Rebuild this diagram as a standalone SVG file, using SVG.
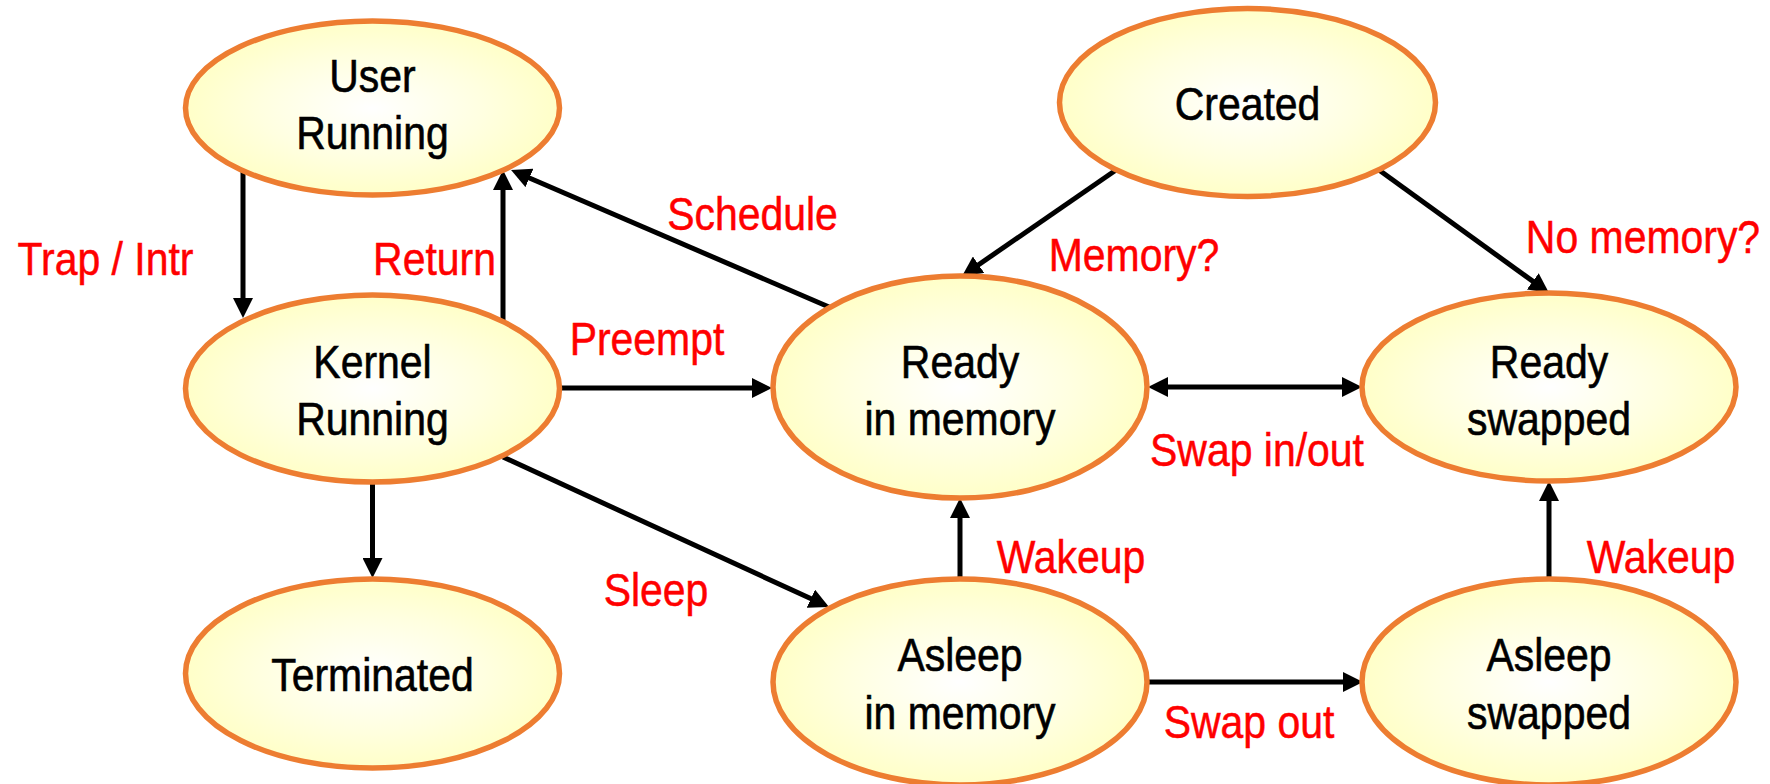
<svg xmlns="http://www.w3.org/2000/svg" width="1770" height="784" viewBox="0 0 1770 784">
  <style>
    .state { fill: url(#stateFill); stroke: #ED7D31; stroke-width: 5.5; }
    .name { font-family: "Liberation Sans", Arial, sans-serif; font-size: 46px; fill: #000; stroke: #000; stroke-width: 0.6; text-anchor: middle; }
    .label { font-family: "Liberation Sans", Arial, sans-serif; font-size: 46px; fill: #FF0000; stroke: #FF0000; stroke-width: 0.5; text-anchor: middle; }
    .edge { stroke: #000; stroke-width: 5; fill: none; marker-end: url(#head); }
    .both { marker-start: url(#head); }
  </style>
  <defs>
    <radialGradient id="stateFill" cx="50%" cy="50%" r="50%">
      <stop offset="0" stop-color="#FFFFFF"/>
      <stop offset="0.6" stop-color="#FFFFE0"/>
      <stop offset="1" stop-color="#FFFFC8"/>
    </radialGradient>
    <marker id="head" markerUnits="userSpaceOnUse" markerWidth="20" markerHeight="20" refX="7" refY="10" orient="auto-start-reverse">
      <path d="M0,0 L20,10 L0,20 Z" fill="#000"/>
    </marker>
  </defs>

  <!-- transitions -->
  <g id="connectors">
    <line class="edge" x1="243" y1="172" x2="243" y2="305"/>
    <line class="edge" x1="503" y1="321" x2="503" y2="183"/>
    <line class="edge" x1="829" y1="307" x2="523" y2="175.2"/>
    <line class="edge" x1="560" y1="388" x2="759" y2="388"/>
    <line class="edge" x1="503" y1="457" x2="817.2" y2="601.6"/>
    <line class="edge" x1="372.5" y1="482" x2="372.5" y2="565"/>
    <line class="edge" x1="1116" y1="170" x2="972.8" y2="268.7"/>
    <line class="edge" x1="1379" y1="170" x2="1538.5" y2="285.4"/>
    <line class="edge both" x1="1161" y1="387" x2="1349" y2="387"/>
    <line class="edge" x1="960" y1="579" x2="960" y2="511"/>
    <line class="edge" x1="1549" y1="579" x2="1549" y2="494"/>
    <line class="edge" x1="1147" y1="682" x2="1350" y2="682"/>
  </g>

  <!-- transition labels -->
  <g id="labels">
    <text class="label" transform="translate(105.5 0) scale(.89 1)" y="275">Trap / Intr</text>
    <text class="label" transform="translate(434.5 0) scale(.89 1)" y="275">Return</text>
    <text class="label" transform="translate(752.5 0) scale(.89 1)" y="230">Schedule</text>
    <text class="label" transform="translate(647 0) scale(.89 1)" y="355">Preempt</text>
    <text class="label" transform="translate(1134 0) scale(.89 1)" y="271.5">Memory?</text>
    <text class="label" transform="translate(1643 0) scale(.89 1)" y="253">No memory?</text>
    <text class="label" transform="translate(1257 0) scale(.89 1)" y="466.5">Swap in/out</text>
    <text class="label" transform="translate(1071 0) scale(.89 1)" y="573.5">Wakeup</text>
    <text class="label" transform="translate(1661 0) scale(.89 1)" y="573.5">Wakeup</text>
    <text class="label" transform="translate(656 0) scale(.89 1)" y="606.5">Sleep</text>
    <text class="label" transform="translate(1249 0) scale(.89 1)" y="738">Swap out</text>
  </g>

  <g id="user-running">
    <ellipse class="state" cx="372.5" cy="108" rx="187" ry="87"/>
    <text class="name" transform="translate(372.5 0) scale(.89 1)"><tspan x="0" y="92">User</tspan><tspan x="0" y="149">Running</tspan></text>
  </g>
  <g id="kernel-running">
    <ellipse class="state" cx="372.5" cy="388.5" rx="187" ry="93.5"/>
    <text class="name" transform="translate(372.5 0) scale(.89 1)"><tspan x="0" y="378">Kernel</tspan><tspan x="0" y="435">Running</tspan></text>
  </g>
  <g id="terminated">
    <ellipse class="state" cx="372.5" cy="673.5" rx="187" ry="94.5"/>
    <text class="name" transform="translate(372.5 0) scale(.89 1)" y="691.5">Terminated</text>
  </g>
  <g id="created">
    <ellipse class="state" cx="1247.5" cy="102.5" rx="188" ry="94"/>
    <text class="name" transform="translate(1247.5 0) scale(.89 1)" y="120">Created</text>
  </g>
  <g id="ready-in-memory">
    <ellipse class="state" cx="960" cy="387" rx="187" ry="111"/>
    <text class="name" transform="translate(960 0) scale(.89 1)"><tspan x="0" y="378">Ready</tspan><tspan x="0" y="435">in memory</tspan></text>
  </g>
  <g id="ready-swapped">
    <ellipse class="state" cx="1549" cy="387" rx="187" ry="94"/>
    <text class="name" transform="translate(1549 0) scale(.89 1)"><tspan x="0" y="378">Ready</tspan><tspan x="0" y="435">swapped</tspan></text>
  </g>
  <g id="asleep-in-memory">
    <ellipse class="state" cx="960" cy="682" rx="187" ry="103"/>
    <text class="name" transform="translate(960 0) scale(.89 1)"><tspan x="0" y="671.5">Asleep</tspan><tspan x="0" y="729">in memory</tspan></text>
  </g>
  <g id="asleep-swapped">
    <ellipse class="state" cx="1549" cy="682" rx="187" ry="103"/>
    <text class="name" transform="translate(1549 0) scale(.89 1)"><tspan x="0" y="671.5">Asleep</tspan><tspan x="0" y="729">swapped</tspan></text>
  </g>
</svg>
